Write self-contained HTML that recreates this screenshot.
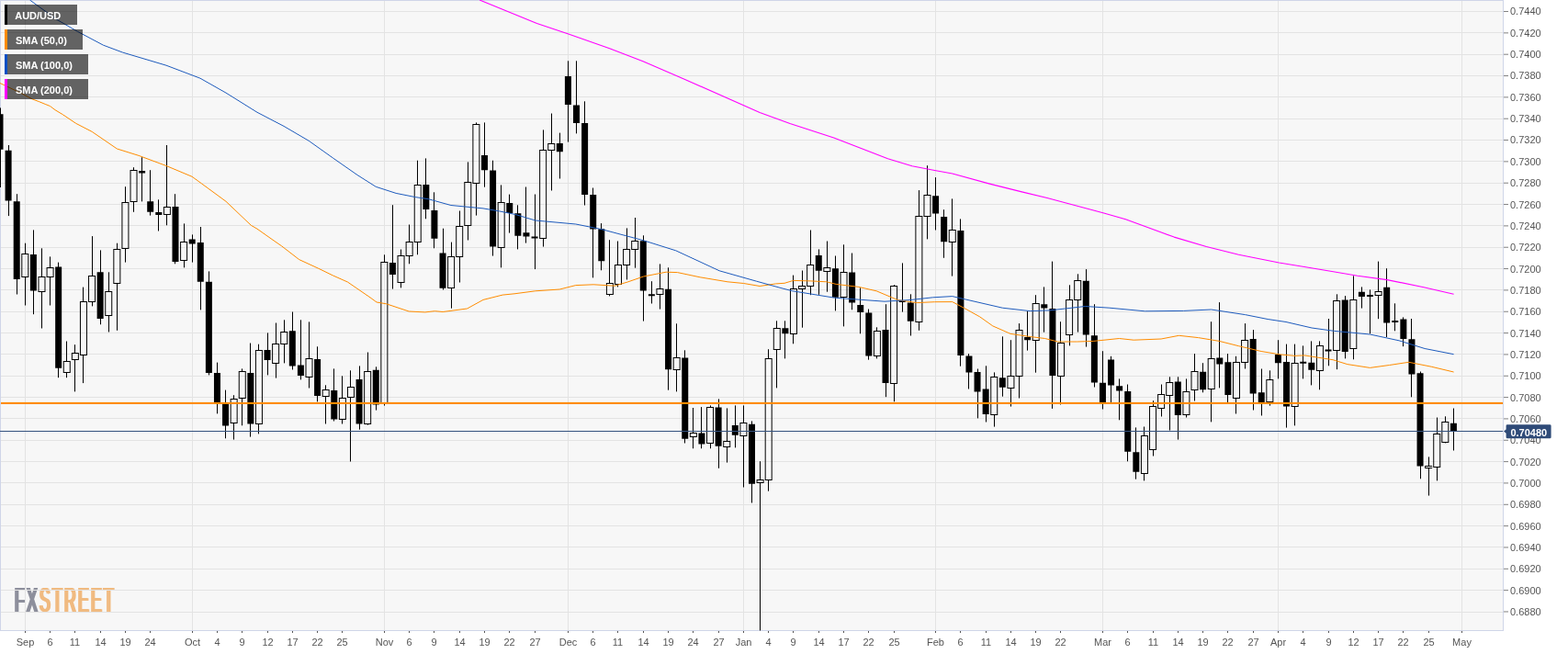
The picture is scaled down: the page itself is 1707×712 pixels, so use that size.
<!DOCTYPE html>
<html><head><meta charset="utf-8"><title>AUD/USD daily chart</title>
<style>
html,body{margin:0;padding:0;background:#fff;}
body{width:1707px;height:712px;position:relative;overflow:hidden;font-family:"Liberation Sans",sans-serif;}
.yl{position:absolute;left:1644px;font-size:11px;line-height:12px;height:12px;color:#555;white-space:nowrap;}
.xl{position:absolute;top:692px;width:40px;margin-left:-20px;text-align:center;font-size:11px;line-height:14px;color:#555;white-space:nowrap;}
.lg{position:absolute;left:5px;height:22px;box-sizing:border-box;border-left:3px solid #000;background:rgba(0,0,0,0.6);color:#fff;font-weight:bold;font-size:11px;line-height:24px;padding-left:9px;overflow:hidden;white-space:nowrap;}
.pl{position:absolute;left:1644.4px;top:464px;height:14px;line-height:14px;font-size:11px;font-weight:bold;color:#fff;white-space:nowrap;}
.bg{position:absolute;left:0;top:0;width:1637px;height:687px;background:#f7f7f7;}
.logo{position:absolute;left:0;top:0;width:160px;height:687px;overflow:hidden;}
.logo .lw{position:absolute;top:634.5px;font-size:37.06px;line-height:37.06px;font-weight:normal;white-space:nowrap;transform-origin:0 0;}
.logo .fx{color:#8d8f9c;}
.logo .st{color:#f0ba80;}
</style></head><body>
<div class="bg"></div>
<div class="logo"><div class="lw" style="left:15.57px;transform:scaleX(0.475);letter-spacing:4.74px;text-shadow:2.74px 0 0 currentColor,-2.74px 0 0 currentColor,0 0.25px 0 currentColor"><span class="fx">FX</span><span class="st">STREET</span></div></div>
<svg width="1707" height="712" viewBox="0 0 1707 712" style="position:absolute;left:0;top:0">
<g stroke="#e3e3e3" stroke-width="1" shape-rendering="crispEdges">
<line x1="0" y1="12.5" x2="1637" y2="12.5"/>
<line x1="0" y1="35.5" x2="1637" y2="35.5"/>
<line x1="0" y1="59.5" x2="1637" y2="59.5"/>
<line x1="0" y1="82.5" x2="1637" y2="82.5"/>
<line x1="0" y1="105.5" x2="1637" y2="105.5"/>
<line x1="0" y1="129.5" x2="1637" y2="129.5"/>
<line x1="0" y1="152.5" x2="1637" y2="152.5"/>
<line x1="0" y1="175.5" x2="1637" y2="175.5"/>
<line x1="0" y1="199.5" x2="1637" y2="199.5"/>
<line x1="0" y1="222.5" x2="1637" y2="222.5"/>
<line x1="0" y1="245.5" x2="1637" y2="245.5"/>
<line x1="0" y1="269.5" x2="1637" y2="269.5"/>
<line x1="0" y1="292.5" x2="1637" y2="292.5"/>
<line x1="0" y1="315.5" x2="1637" y2="315.5"/>
<line x1="0" y1="339.5" x2="1637" y2="339.5"/>
<line x1="0" y1="362.5" x2="1637" y2="362.5"/>
<line x1="0" y1="385.5" x2="1637" y2="385.5"/>
<line x1="0" y1="409.5" x2="1637" y2="409.5"/>
<line x1="0" y1="432.5" x2="1637" y2="432.5"/>
<line x1="0" y1="455.5" x2="1637" y2="455.5"/>
<line x1="0" y1="479.5" x2="1637" y2="479.5"/>
<line x1="0" y1="502.5" x2="1637" y2="502.5"/>
<line x1="0" y1="525.5" x2="1637" y2="525.5"/>
<line x1="0" y1="549.5" x2="1637" y2="549.5"/>
<line x1="0" y1="572.5" x2="1637" y2="572.5"/>
<line x1="0" y1="595.5" x2="1637" y2="595.5"/>
<line x1="0" y1="619.5" x2="1637" y2="619.5"/>
<line x1="0" y1="642.5" x2="1637" y2="642.5"/>
<line x1="0" y1="666.5" x2="1637" y2="666.5"/>
<line x1="27.5" y1="0" x2="27.5" y2="687"/>
<line x1="209.5" y1="0" x2="209.5" y2="687"/>
<line x1="418.5" y1="0" x2="418.5" y2="687"/>
<line x1="618.5" y1="0" x2="618.5" y2="687"/>
<line x1="809.5" y1="0" x2="809.5" y2="687"/>
<line x1="1018.5" y1="0" x2="1018.5" y2="687"/>
<line x1="1200.5" y1="0" x2="1200.5" y2="687"/>
<line x1="1391.5" y1="0" x2="1391.5" y2="687"/>
<line x1="1591.5" y1="0" x2="1591.5" y2="687"/>
</g>
<g fill="#cfd5e8" shape-rendering="crispEdges">
<rect x="0" y="0" width="1637" height="1"/>
<rect x="0" y="0" width="1" height="687"/>
<rect x="1636" y="0" width="1" height="687"/>
<rect x="0" y="686" width="1637" height="1"/>
</g>
<clipPath id="cp"><rect x="0" y="0" width="1636" height="687"/></clipPath>
<g clip-path="url(#cp)">
<path d="M0.5 117.4V204.0M9.5 158.0V235.1M18.5 211.2V320.5M27.5 264.7V276.1M27.5 301.4V332.5M36.5 250.4V342.2M45.5 270.3V301.4M45.5 317.0V357.5M54.5 279.4V291.4M54.5 301.2V332.5M63.5 285.6V411.2M72.5 371.5V393.5M72.5 405.4V411.2M81.5 375.2V384.7M81.5 391.4V426.4M90.5 312.6V328.5M90.5 386.6V417.1M100.5 257.1V300.5M100.5 328.5V333.4M109.5 272.4V353.3M118.5 296.3V317.0M118.5 343.1V361.5M127.5 264.7V271.5M127.5 308.3V359.8M136.5 203.2V220.1M136.5 270.3V285.6M145.5 182.2V185.2M145.5 219.4V230.8M154.5 171.2V219.4M163.5 185.2V234.6M172.5 217.3V251.5M181.5 158.0V225.8M181.5 233.0V245.3M190.5 211.2V287.3M200.5 243.4V263.6M200.5 283.5V291.4M209.5 255.4V285.6M218.5 247.0V337.4M227.5 295.4V408.4M236.5 394.6V450.4M245.5 424.6V477.3M254.5 430.2V434.6M254.5 460.1V478.6M263.5 401.4V404.6M263.5 433.4V463.3M272.5 373.5V475.6M281.5 374.7V381.2M281.5 461.9V472.4M291.5 362.4V408.4M300.5 351.5V374.3M300.5 395.4V411.6M309.5 348.3V361.5M309.5 374.3V395.4M318.5 339.5V402.5M327.5 348.3V413.4M336.5 350.4V390.5M336.5 410.2V422.5M345.5 377.3V437.4M354.5 419.3V424.6M354.5 431.6V461.5M363.5 401.4V458.5M372.5 409.3V433.4M372.5 456.8V461.5M381.5 403.3V421.8M381.5 432.5V502.5M391.5 398.4V467.7M400.5 383.5V404.0M400.5 461.9V462.7M409.5 399.3V446.6M418.5 277.3V285.6M418.5 439.0V441.6M427.5 223.2V314.6M436.5 271.5V278.6M436.5 307.3V313.4M445.5 244.5V263.3M445.5 278.7V287.3M454.5 174.7V201.0M454.5 263.3V277.3M463.5 172.4V238.3M472.5 209.3V270.3M482.5 248.7V315.5M491.5 263.6V279.6M491.5 313.7V335.7M500.5 229.5V246.4M500.5 279.6V307.5M509.5 176.4V198.9M509.5 245.7V261.5M518.5 133.4V135.1M518.5 199.6V234.6M527.5 133.4V203.7M536.5 174.7V278.6M545.5 201.4V220.5M545.5 269.1V291.4M554.5 211.6V253.6M563.5 223.3V271.4M572.5 203.5V264.6M582.5 211.5V293.1M591.5 141.4V163.3M591.5 259.3V268.6M600.5 123.5V156.0M600.5 163.2V207.5M609.5 144.6V194.5M618.5 66.3V154.6M627.5 66.3V145.4M636.5 110.3V223.5M645.5 204.5V302.4M654.5 243.1V294.3M663.5 261.2V308.5M663.5 320.3V322.4M672.5 262.5V288.1M672.5 309.2V312.4M682.5 248.4V271.4M682.5 288.1V304.5M691.5 237.0V262.4M691.5 271.4V291.7M700.5 256.3V349.6M709.5 306.2V330.5M718.5 287.4V314.7M718.5 320.6V336.6M727.5 291.3V424.7M736.5 352.3V389.5M736.5 402.2V426.4M745.5 381.3V482.5M754.5 444.0V471.1M754.5 475.5V488.3M763.5 443.1V488.3M773.5 441.4V443.5M773.5 482.5V488.3M782.5 434.4V509.8M791.5 444.4V480.4M791.5 486.4V503.6M800.5 441.4V487.4M809.5 441.4V460.4M809.5 474.3V530.5M818.5 458.4V547.5M827.5 502.2V522.6M827.5 525.6V686.5M836.5 380.2V390.8M836.5 522.6V534.7M845.5 349.3V357.3M845.5 380.8V422.4M854.5 349.3V390.4M863.5 299.6V314.5M863.5 363.6V374.3M873.5 294.5V311.5M873.5 314.5V356.7M882.5 250.5V288.1M882.5 311.5V321.2M891.5 271.4V320.8M900.5 262.5V291.8M900.5 295.3V317.7M909.5 278.5V338.4M918.5 266.3V296.0M918.5 323.3V355.4M927.5 275.5V337.3M936.5 313.3V363.3M945.5 336.5V391.7M954.5 356.3V360.3M954.5 387.4V390.4M964.5 331.2V432.2M973.5 310.1V311.5M973.5 417.7V437.3M982.5 286.4V339.6M991.5 320.3V365.5M1000.5 207.1V235.2M1000.5 350.5V359.8M1009.5 180.2V212.4M1009.5 235.6V260.4M1018.5 193.1V250.5M1027.5 228.2V280.8M1036.5 216.4V250.7M1036.5 263.6V300.6M1045.5 238.4V398.7M1054.5 385.1V423.5M1064.5 401.5V455.4M1073.5 398.3V459.5M1082.5 405.4V410.3M1082.5 451.4V464.6M1091.5 366.3V431.7M1100.5 370.2V409.4M1100.5 422.0V442.6M1109.5 352.1V359.7M1109.5 409.4V433.5M1118.5 338.7V381.6M1127.5 321.2V330.5M1127.5 370.3V405.7M1136.5 312.4V361.7M1145.5 284.6V444.9M1154.5 350.2V373.4M1154.5 409.4V440.5M1164.5 310.3V326.4M1164.5 364.1V376.4M1173.5 298.3V305.4M1173.5 326.4V361.6M1182.5 293.1V377.6M1191.5 331.2V421.5M1200.5 382.2V445.5M1209.5 387.8V438.0M1218.5 412.4V457.3M1227.5 418.5V502.3M1236.5 465.4V521.7M1245.5 464.5V474.6M1245.5 515.5V523.4M1255.5 436.2V442.9M1255.5 489.1V496.5M1264.5 418.5V429.1M1264.5 444.2V453.5M1273.5 410.3V416.4M1273.5 430.4V468.5M1282.5 410.3V478.6M1291.5 412.4V426.4M1291.5 451.4V454.5M1300.5 385.1V404.1M1300.5 424.3V436.5M1309.5 395.2V427.3M1318.5 350.2V390.4M1318.5 423.5V459.4M1327.5 329.1V422.4M1336.5 385.1V438.0M1345.5 387.8V394.5M1345.5 433.4V450.5M1355.5 352.1V370.5M1355.5 394.5V401.5M1364.5 359.1V446.5M1373.5 401.5V452.5M1382.5 403.3V413.3M1382.5 437.3V441.7M1391.5 370.2V412.4M1400.5 374.6V465.6M1409.5 374.6V395.3M1409.5 442.6V463.4M1418.5 376.4V412.4M1427.5 371.4V419.4M1436.5 371.4V376.4M1436.5 403.3V424.3M1446.5 347.0V398.3M1455.5 320.3V327.3M1455.5 381.3V402.2M1464.5 322.1V390.4M1473.5 300.4V326.4M1473.5 379.5V391.3M1482.5 312.4V335.6M1491.5 315.4V363.3M1500.5 284.6V317.3M1500.5 321.5V347.2M1509.5 292.2V367.0M1518.5 330.3V360.3M1527.5 345.4V377.2M1536.5 347.0V432.3M1546.5 404.5V521.3M1555.5 497.4V507.1M1555.5 509.0V539.6M1564.5 454.5V472.3M1564.5 508.5V523.4M1573.5 453.3V459.5M1573.5 481.5V482.4M1582.5 444.5V490.5" stroke="#000" stroke-width="1" fill="none"/>
<path d="M-3.49 124.3h7V162.7h-7zM5.60 163.8h7V218.5h-7zM14.70 219.3h7V304.0h-7zM32.89 277.0h7V316.5h-7zM60.17 290.5h7V400.7h-7zM105.64 296.3h7V346.9h-7zM151.11 186.1h7V188.6h-7zM160.21 219.3h7V230.8h-7zM169.30 231.0h7V234.0h-7zM187.49 225.0h7V284.9h-7zM205.68 260.6h7V265.4h-7zM214.77 264.1h7V306.7h-7zM223.87 306.8h7V406.0h-7zM232.96 406.0h7V438.0h-7zM242.06 440.0h7V463.6h-7zM269.34 406.0h7V461.5h-7zM287.53 381.0h7V392.0h-7zM314.81 360.3h7V398.4h-7zM323.91 397.5h7V409.0h-7zM342.09 390.9h7V431.1h-7zM360.28 425.0h7V456.6h-7zM387.57 412.9h7V461.5h-7zM405.75 402.8h7V440.4h-7zM423.94 286.1h7V299.0h-7zM460.32 201.0h7V228.1h-7zM469.42 229.0h7V259.8h-7zM478.51 275.6h7V313.7h-7zM523.98 169.1h7V185.2h-7zM533.08 185.6h7V268.5h-7zM551.26 221.0h7V232.0h-7zM560.36 232.2h7V256.7h-7zM569.45 253.3h7V257.5h-7zM578.55 257.4h7V259.4h-7zM605.83 156.0h7V165.3h-7zM614.92 82.9h7V114.1h-7zM624.02 114.5h7V134.0h-7zM633.11 134.0h7V211.9h-7zM642.21 211.9h7V249.6h-7zM651.30 249.3h7V284.3h-7zM696.77 262.2h7V316.4h-7zM705.87 320.2h7V322.2h-7zM724.06 314.7h7V402.2h-7zM742.25 389.5h7V477.8h-7zM760.43 471.4h7V483.4h-7zM778.62 443.5h7V485.7h-7zM796.81 462.9h7V473.7h-7zM815.00 461.8h7V526.8h-7zM851.38 357.3h7V363.3h-7zM887.76 278.1h7V294.8h-7zM905.94 292.2h7V323.8h-7zM924.13 296.4h7V329.4h-7zM933.23 332.1h7V340.0h-7zM942.32 340.5h7V387.4h-7zM960.51 359.0h7V417.1h-7zM978.70 327.1h7V329.1h-7zM987.79 329.4h7V349.8h-7zM1015.08 213.3h7V232.6h-7zM1024.17 236.1h7V263.3h-7zM1042.36 251.1h7V386.9h-7zM1051.45 387.4h7V405.4h-7zM1060.55 405.0h7V426.4h-7zM1069.64 423.5h7V451.0h-7zM1087.83 411.2h7V421.7h-7zM1115.11 367.0h7V370.3h-7zM1133.30 331.2h7V335.6h-7zM1142.40 336.1h7V408.9h-7zM1178.77 305.7h7V364.6h-7zM1187.87 365.2h7V416.4h-7zM1196.96 416.8h7V439.0h-7zM1206.06 391.6h7V419.4h-7zM1215.15 420.3h7V425.6h-7zM1224.25 425.9h7V491.8h-7zM1233.34 492.3h7V513.7h-7zM1278.81 415.6h7V452.0h-7zM1306.10 404.8h7V424.2h-7zM1324.28 389.5h7V396.6h-7zM1333.38 394.3h7V430.0h-7zM1360.66 368.9h7V428.6h-7zM1369.76 427.3h7V439.7h-7zM1387.94 386.0h7V395.2h-7zM1397.04 393.9h7V442.6h-7zM1415.23 393.8h7V395.8h-7zM1424.32 394.8h7V402.7h-7zM1442.51 380.5h7V382.5h-7zM1460.70 326.4h7V382.9h-7zM1478.89 317.7h7V322.9h-7zM1487.98 321.0h7V323.0h-7zM1506.17 312.7h7V351.6h-7zM1515.27 349.1h7V351.1h-7zM1524.36 347.5h7V369.0h-7zM1533.45 369.2h7V407.5h-7zM1542.55 406.2h7V507.6h-7zM1578.93 460.8h7V469.0h-7z" fill="#000"/>
<rect x="23.79" y="276.5" width="7" height="25.0" fill="none" stroke="#000" stroke-width="1"/>
<rect x="41.98" y="301.5" width="7" height="16.0" fill="none" stroke="#000" stroke-width="1"/>
<rect x="51.08" y="291.5" width="7" height="10.0" fill="none" stroke="#000" stroke-width="1"/>
<rect x="69.26" y="393.5" width="7" height="12.0" fill="none" stroke="#000" stroke-width="1"/>
<rect x="78.36" y="384.5" width="7" height="7.0" fill="none" stroke="#000" stroke-width="1"/>
<rect x="87.45" y="328.5" width="7" height="58.0" fill="none" stroke="#000" stroke-width="1"/>
<rect x="96.55" y="300.5" width="7" height="28.0" fill="none" stroke="#000" stroke-width="1"/>
<rect x="114.74" y="317.5" width="7" height="26.0" fill="none" stroke="#000" stroke-width="1"/>
<rect x="123.83" y="271.5" width="7" height="37.0" fill="none" stroke="#000" stroke-width="1"/>
<rect x="132.92" y="220.5" width="7" height="50.0" fill="none" stroke="#000" stroke-width="1"/>
<rect x="142.02" y="185.5" width="7" height="34.0" fill="none" stroke="#000" stroke-width="1"/>
<rect x="178.40" y="225.5" width="7" height="8.0" fill="none" stroke="#000" stroke-width="1"/>
<rect x="196.58" y="263.5" width="7" height="20.0" fill="none" stroke="#000" stroke-width="1"/>
<rect x="251.15" y="434.5" width="7" height="26.0" fill="none" stroke="#000" stroke-width="1"/>
<rect x="260.25" y="404.5" width="7" height="29.0" fill="none" stroke="#000" stroke-width="1"/>
<rect x="278.43" y="381.5" width="7" height="80.0" fill="none" stroke="#000" stroke-width="1"/>
<rect x="296.62" y="374.5" width="7" height="21.0" fill="none" stroke="#000" stroke-width="1"/>
<rect x="305.72" y="361.5" width="7" height="13.0" fill="none" stroke="#000" stroke-width="1"/>
<rect x="333.00" y="390.5" width="7" height="20.0" fill="none" stroke="#000" stroke-width="1"/>
<rect x="351.19" y="424.5" width="7" height="7.0" fill="none" stroke="#000" stroke-width="1"/>
<rect x="369.38" y="433.5" width="7" height="23.0" fill="none" stroke="#000" stroke-width="1"/>
<rect x="378.47" y="421.5" width="7" height="11.0" fill="none" stroke="#000" stroke-width="1"/>
<rect x="396.66" y="404.5" width="7" height="57.0" fill="none" stroke="#000" stroke-width="1"/>
<rect x="414.85" y="285.5" width="7" height="154.0" fill="none" stroke="#000" stroke-width="1"/>
<rect x="433.04" y="278.5" width="7" height="29.0" fill="none" stroke="#000" stroke-width="1"/>
<rect x="442.13" y="263.5" width="7" height="15.0" fill="none" stroke="#000" stroke-width="1"/>
<rect x="451.23" y="201.5" width="7" height="62.0" fill="none" stroke="#000" stroke-width="1"/>
<rect x="487.60" y="279.5" width="7" height="34.0" fill="none" stroke="#000" stroke-width="1"/>
<rect x="496.70" y="246.5" width="7" height="33.0" fill="none" stroke="#000" stroke-width="1"/>
<rect x="505.79" y="198.5" width="7" height="47.0" fill="none" stroke="#000" stroke-width="1"/>
<rect x="514.89" y="135.5" width="7" height="64.0" fill="none" stroke="#000" stroke-width="1"/>
<rect x="542.17" y="220.5" width="7" height="49.0" fill="none" stroke="#000" stroke-width="1"/>
<rect x="587.64" y="163.5" width="7" height="96.0" fill="none" stroke="#000" stroke-width="1"/>
<rect x="596.74" y="156.5" width="7" height="7.0" fill="none" stroke="#000" stroke-width="1"/>
<rect x="660.40" y="308.5" width="7" height="12.0" fill="none" stroke="#000" stroke-width="1"/>
<rect x="669.49" y="288.5" width="7" height="21.0" fill="none" stroke="#000" stroke-width="1"/>
<rect x="678.59" y="271.5" width="7" height="17.0" fill="none" stroke="#000" stroke-width="1"/>
<rect x="687.68" y="262.5" width="7" height="9.0" fill="none" stroke="#000" stroke-width="1"/>
<rect x="714.96" y="314.5" width="7" height="6.0" fill="none" stroke="#000" stroke-width="1"/>
<rect x="733.15" y="389.5" width="7" height="13.0" fill="none" stroke="#000" stroke-width="1"/>
<rect x="751.34" y="471.5" width="7" height="4.0" fill="none" stroke="#000" stroke-width="1"/>
<rect x="769.53" y="443.5" width="7" height="39.0" fill="none" stroke="#000" stroke-width="1"/>
<rect x="787.72" y="480.5" width="7" height="6.0" fill="none" stroke="#000" stroke-width="1"/>
<rect x="805.91" y="460.5" width="7" height="14.0" fill="none" stroke="#000" stroke-width="1"/>
<rect x="824.09" y="522.5" width="7" height="3.0" fill="none" stroke="#000" stroke-width="1"/>
<rect x="833.19" y="390.5" width="7" height="132.0" fill="none" stroke="#000" stroke-width="1"/>
<rect x="842.28" y="357.5" width="7" height="23.0" fill="none" stroke="#000" stroke-width="1"/>
<rect x="860.47" y="314.5" width="7" height="49.0" fill="none" stroke="#000" stroke-width="1"/>
<rect x="869.57" y="311.5" width="7" height="3.0" fill="none" stroke="#000" stroke-width="1"/>
<rect x="878.66" y="288.5" width="7" height="23.0" fill="none" stroke="#000" stroke-width="1"/>
<rect x="896.85" y="291.5" width="7" height="4.0" fill="none" stroke="#000" stroke-width="1"/>
<rect x="915.04" y="296.5" width="7" height="27.0" fill="none" stroke="#000" stroke-width="1"/>
<rect x="951.42" y="360.5" width="7" height="27.0" fill="none" stroke="#000" stroke-width="1"/>
<rect x="969.60" y="311.5" width="7" height="106.0" fill="none" stroke="#000" stroke-width="1"/>
<rect x="996.89" y="235.5" width="7" height="115.0" fill="none" stroke="#000" stroke-width="1"/>
<rect x="1005.98" y="212.5" width="7" height="23.0" fill="none" stroke="#000" stroke-width="1"/>
<rect x="1033.26" y="250.5" width="7" height="13.0" fill="none" stroke="#000" stroke-width="1"/>
<rect x="1078.74" y="410.5" width="7" height="41.0" fill="none" stroke="#000" stroke-width="1"/>
<rect x="1096.93" y="409.5" width="7" height="13.0" fill="none" stroke="#000" stroke-width="1"/>
<rect x="1106.02" y="359.5" width="7" height="50.0" fill="none" stroke="#000" stroke-width="1"/>
<rect x="1124.21" y="330.5" width="7" height="40.0" fill="none" stroke="#000" stroke-width="1"/>
<rect x="1151.49" y="373.5" width="7" height="36.0" fill="none" stroke="#000" stroke-width="1"/>
<rect x="1160.59" y="326.5" width="7" height="38.0" fill="none" stroke="#000" stroke-width="1"/>
<rect x="1169.68" y="305.5" width="7" height="21.0" fill="none" stroke="#000" stroke-width="1"/>
<rect x="1242.43" y="474.5" width="7" height="41.0" fill="none" stroke="#000" stroke-width="1"/>
<rect x="1251.53" y="442.5" width="7" height="47.0" fill="none" stroke="#000" stroke-width="1"/>
<rect x="1260.62" y="429.5" width="7" height="15.0" fill="none" stroke="#000" stroke-width="1"/>
<rect x="1269.72" y="416.5" width="7" height="14.0" fill="none" stroke="#000" stroke-width="1"/>
<rect x="1287.91" y="426.5" width="7" height="25.0" fill="none" stroke="#000" stroke-width="1"/>
<rect x="1297.00" y="404.5" width="7" height="20.0" fill="none" stroke="#000" stroke-width="1"/>
<rect x="1315.19" y="390.5" width="7" height="33.0" fill="none" stroke="#000" stroke-width="1"/>
<rect x="1342.47" y="394.5" width="7" height="39.0" fill="none" stroke="#000" stroke-width="1"/>
<rect x="1351.57" y="370.5" width="7" height="24.0" fill="none" stroke="#000" stroke-width="1"/>
<rect x="1378.85" y="413.5" width="7" height="24.0" fill="none" stroke="#000" stroke-width="1"/>
<rect x="1406.13" y="395.5" width="7" height="47.0" fill="none" stroke="#000" stroke-width="1"/>
<rect x="1433.42" y="376.5" width="7" height="27.0" fill="none" stroke="#000" stroke-width="1"/>
<rect x="1451.60" y="327.5" width="7" height="54.0" fill="none" stroke="#000" stroke-width="1"/>
<rect x="1469.79" y="326.5" width="7" height="53.0" fill="none" stroke="#000" stroke-width="1"/>
<rect x="1497.08" y="317.5" width="7" height="4.0" fill="none" stroke="#000" stroke-width="1"/>
<rect x="1551.64" y="507.5" width="7" height="2.0" fill="none" stroke="#000" stroke-width="1"/>
<rect x="1560.74" y="472.5" width="7" height="36.0" fill="none" stroke="#000" stroke-width="1"/>
<rect x="1569.83" y="459.5" width="7" height="22.0" fill="none" stroke="#000" stroke-width="1"/>
<polyline points="0.0,90.5 22.8,101.4 35.1,107.9 42.2,110.5 49.2,113.4 54.5,115.5 60.0,119.7 68.5,124.8 82.6,134.3 100.2,143.4 127.4,162.0 151.1,169.4 181.0,180.5 209.1,192.3 219.7,200.0 246.0,219.3 273.3,245.3 280.0,249.2 300.0,263.3 306.4,267.7 325.7,282.6 346.8,292.3 362.6,300.0 378.4,307.0 403.0,323.9 410.0,329.0 420.6,330.8 445.2,339.0 462.8,339.9 473.3,338.7 482.1,339.5 508.5,336.0 526.0,326.4 547.1,321.1 560.0,319.8 582.8,316.8 609.2,315.0 626.8,310.6 646.1,309.8 669.0,311.2 683.0,307.1 700.6,301.0 725.2,296.2 737.5,296.6 762.1,301.8 792.0,306.8 809.6,308.5 827.1,311.5 844.7,308.9 854.0,308.3 863.7,305.4 882.2,305.9 899.8,306.8 910.3,309.4 934.9,312.4 954.2,316.8 977.1,326.5 998.2,329.6 1017.5,328.7 1036.8,328.6 1050.9,336.1 1066.7,344.9 1080.8,354.9 1100.1,363.4 1121.2,366.5 1137.6,368.5 1151.6,372.0 1172.7,372.0 1190.3,371.4 1218.4,368.5 1234.2,370.2 1264.1,369.0 1283.4,365.3 1304.5,367.6 1327.4,371.4 1348.5,376.7 1373.1,382.5 1394.2,386.0 1410.0,387.4 1420.0,386.9 1451.0,391.7 1466.8,396.6 1491.4,400.4 1512.5,397.5 1533.6,394.3 1558.2,399.2 1582.6,405.0" fill="none" stroke="#ff8c00" stroke-width="1.0" stroke-linejoin="round"/>
<polyline points="32.5,0.0 61.5,21.1 84.4,34.3 112.5,49.2 133.6,57.1 181.0,71.2 217.9,85.2 246.0,101.1 280.0,122.3 309.0,137.4 336.2,153.3 362.6,172.1 389.0,190.5 409.2,203.3 431.1,210.4 452.2,214.6 466.3,216.7 490.9,223.5 526.0,226.9 543.6,229.9 561.2,233.5 582.8,240.0 626.8,244.0 654.9,249.6 700.6,261.8 735.7,272.8 783.2,294.8 823.6,306.2 850.0,313.5 862.8,316.8 908.5,324.2 963.0,328.2 991.1,326.5 1015.7,323.8 1036.8,322.6 1050.9,325.9 1091.3,335.2 1121.2,338.6 1142.8,337.9 1181.5,333.5 1207.9,335.2 1246.5,338.8 1288.7,338.4 1318.6,337.0 1355.5,342.6 1380.1,347.5 1400.0,350.5 1428.1,357.0 1452.7,360.4 1491.4,364.0 1523.0,370.8 1551.1,379.5 1582.6,385.7" fill="none" stroke="#1e5bbd" stroke-width="1.0" stroke-linejoin="round"/>
<polyline points="522.1,0.0 584.5,25.5 618.8,36.9 655.8,50.0 663.6,52.7 700.0,66.8 744.5,86.0 827.1,122.4 860.0,134.4 907.7,150.0 966.5,172.8 992.9,180.8 1017.5,185.5 1036.8,189.0 1077.3,200.1 1112.4,208.9 1140.0,215.5 1200.8,231.7 1225.4,238.8 1278.2,258.1 1313.3,268.5 1348.5,277.2 1392.4,286.0 1420.0,290.5 1450.0,295.5 1477.9,300.2 1510.0,304.6 1550.0,312.7 1582.6,320.3" fill="none" stroke="#ff00ff" stroke-width="1.1" stroke-linejoin="round"/>
<rect x="1" y="437.9" width="1637" height="2.1" fill="#ff8c00"/>
<rect x="0" y="469" width="1637" height="1" fill="#34527f"/>
</g>
<g fill="#808080">
<rect x="1637" y="12.02" width="5" height="1"/>
<rect x="1637" y="35.36" width="5" height="1"/>
<rect x="1637" y="58.69" width="5" height="1"/>
<rect x="1637" y="82.03" width="5" height="1"/>
<rect x="1637" y="105.37" width="5" height="1"/>
<rect x="1637" y="128.70" width="5" height="1"/>
<rect x="1637" y="152.04" width="5" height="1"/>
<rect x="1637" y="175.38" width="5" height="1"/>
<rect x="1637" y="198.72" width="5" height="1"/>
<rect x="1637" y="222.05" width="5" height="1"/>
<rect x="1637" y="245.39" width="5" height="1"/>
<rect x="1637" y="268.73" width="5" height="1"/>
<rect x="1637" y="292.06" width="5" height="1"/>
<rect x="1637" y="315.40" width="5" height="1"/>
<rect x="1637" y="338.74" width="5" height="1"/>
<rect x="1637" y="362.07" width="5" height="1"/>
<rect x="1637" y="385.41" width="5" height="1"/>
<rect x="1637" y="408.75" width="5" height="1"/>
<rect x="1637" y="432.09" width="5" height="1"/>
<rect x="1637" y="455.42" width="5" height="1"/>
<rect x="1637" y="478.76" width="5" height="1"/>
<rect x="1637" y="502.10" width="5" height="1"/>
<rect x="1637" y="525.43" width="5" height="1"/>
<rect x="1637" y="548.77" width="5" height="1"/>
<rect x="1637" y="572.11" width="5" height="1"/>
<rect x="1637" y="595.45" width="5" height="1"/>
<rect x="1637" y="618.78" width="5" height="1"/>
<rect x="1637" y="642.12" width="5" height="1"/>
<rect x="1637" y="665.46" width="5" height="1"/>
</g>
<g fill="#555" shape-rendering="crispEdges">
<rect x="27" y="687" width="1" height="2"/>
<rect x="54" y="687" width="1" height="2"/>
<rect x="81" y="687" width="1" height="2"/>
<rect x="109" y="687" width="1" height="2"/>
<rect x="136" y="687" width="1" height="2"/>
<rect x="163" y="687" width="1" height="2"/>
<rect x="209" y="687" width="1" height="2"/>
<rect x="236" y="687" width="1" height="2"/>
<rect x="263" y="687" width="1" height="2"/>
<rect x="291" y="687" width="1" height="2"/>
<rect x="318" y="687" width="1" height="2"/>
<rect x="345" y="687" width="1" height="2"/>
<rect x="372" y="687" width="1" height="2"/>
<rect x="418" y="687" width="1" height="2"/>
<rect x="445" y="687" width="1" height="2"/>
<rect x="472" y="687" width="1" height="2"/>
<rect x="500" y="687" width="1" height="2"/>
<rect x="527" y="687" width="1" height="2"/>
<rect x="554" y="687" width="1" height="2"/>
<rect x="582" y="687" width="1" height="2"/>
<rect x="618" y="687" width="1" height="2"/>
<rect x="645" y="687" width="1" height="2"/>
<rect x="672" y="687" width="1" height="2"/>
<rect x="700" y="687" width="1" height="2"/>
<rect x="727" y="687" width="1" height="2"/>
<rect x="754" y="687" width="1" height="2"/>
<rect x="782" y="687" width="1" height="2"/>
<rect x="809" y="687" width="1" height="2"/>
<rect x="836" y="687" width="1" height="2"/>
<rect x="863" y="687" width="1" height="2"/>
<rect x="891" y="687" width="1" height="2"/>
<rect x="918" y="687" width="1" height="2"/>
<rect x="945" y="687" width="1" height="2"/>
<rect x="973" y="687" width="1" height="2"/>
<rect x="1018" y="687" width="1" height="2"/>
<rect x="1045" y="687" width="1" height="2"/>
<rect x="1073" y="687" width="1" height="2"/>
<rect x="1100" y="687" width="1" height="2"/>
<rect x="1127" y="687" width="1" height="2"/>
<rect x="1154" y="687" width="1" height="2"/>
<rect x="1200" y="687" width="1" height="2"/>
<rect x="1227" y="687" width="1" height="2"/>
<rect x="1255" y="687" width="1" height="2"/>
<rect x="1282" y="687" width="1" height="2"/>
<rect x="1309" y="687" width="1" height="2"/>
<rect x="1336" y="687" width="1" height="2"/>
<rect x="1364" y="687" width="1" height="2"/>
<rect x="1391" y="687" width="1" height="2"/>
<rect x="1418" y="687" width="1" height="2"/>
<rect x="1446" y="687" width="1" height="2"/>
<rect x="1473" y="687" width="1" height="2"/>
<rect x="1500" y="687" width="1" height="2"/>
<rect x="1527" y="687" width="1" height="2"/>
<rect x="1555" y="687" width="1" height="2"/>
<rect x="1591" y="687" width="1" height="2"/>
</g>
</svg>
<div class="yl" style="top:6px">0.7440</div>
<div class="yl" style="top:30px">0.7420</div>
<div class="yl" style="top:53px">0.7400</div>
<div class="yl" style="top:76px">0.7380</div>
<div class="yl" style="top:100px">0.7360</div>
<div class="yl" style="top:123px">0.7340</div>
<div class="yl" style="top:146px">0.7320</div>
<div class="yl" style="top:170px">0.7300</div>
<div class="yl" style="top:193px">0.7280</div>
<div class="yl" style="top:217px">0.7260</div>
<div class="yl" style="top:240px">0.7240</div>
<div class="yl" style="top:263px">0.7220</div>
<div class="yl" style="top:287px">0.7200</div>
<div class="yl" style="top:310px">0.7180</div>
<div class="yl" style="top:333px">0.7160</div>
<div class="yl" style="top:357px">0.7140</div>
<div class="yl" style="top:380px">0.7120</div>
<div class="yl" style="top:403px">0.7100</div>
<div class="yl" style="top:427px">0.7080</div>
<div class="yl" style="top:450px">0.7060</div>
<div class="yl" style="top:473px">0.7040</div>
<div class="yl" style="top:497px">0.7020</div>
<div class="yl" style="top:520px">0.7000</div>
<div class="yl" style="top:543px">0.6980</div>
<div class="yl" style="top:567px">0.6960</div>
<div class="yl" style="top:590px">0.6940</div>
<div class="yl" style="top:613px">0.6920</div>
<div class="yl" style="top:637px">0.6900</div>
<div class="yl" style="top:660px">0.6880</div>
<div class="xl" style="left:27.5px">Sep</div>
<div class="xl" style="left:54.5px">6</div>
<div class="xl" style="left:81.5px">11</div>
<div class="xl" style="left:109.5px">14</div>
<div class="xl" style="left:136.5px">19</div>
<div class="xl" style="left:163.5px">24</div>
<div class="xl" style="left:209.5px">Oct</div>
<div class="xl" style="left:236.5px">4</div>
<div class="xl" style="left:263.5px">9</div>
<div class="xl" style="left:291.5px">12</div>
<div class="xl" style="left:318.5px">17</div>
<div class="xl" style="left:345.5px">22</div>
<div class="xl" style="left:372.5px">25</div>
<div class="xl" style="left:418.5px">Nov</div>
<div class="xl" style="left:445.5px">6</div>
<div class="xl" style="left:472.5px">9</div>
<div class="xl" style="left:500.5px">14</div>
<div class="xl" style="left:527.5px">19</div>
<div class="xl" style="left:554.5px">22</div>
<div class="xl" style="left:582.5px">27</div>
<div class="xl" style="left:618.5px">Dec</div>
<div class="xl" style="left:645.5px">6</div>
<div class="xl" style="left:672.5px">11</div>
<div class="xl" style="left:700.5px">14</div>
<div class="xl" style="left:727.5px">19</div>
<div class="xl" style="left:754.5px">24</div>
<div class="xl" style="left:782.5px">27</div>
<div class="xl" style="left:809.5px">Jan</div>
<div class="xl" style="left:836.5px">4</div>
<div class="xl" style="left:863.5px">9</div>
<div class="xl" style="left:891.5px">14</div>
<div class="xl" style="left:918.5px">17</div>
<div class="xl" style="left:945.5px">22</div>
<div class="xl" style="left:973.5px">25</div>
<div class="xl" style="left:1018.5px">Feb</div>
<div class="xl" style="left:1045.5px">6</div>
<div class="xl" style="left:1073.5px">11</div>
<div class="xl" style="left:1100.5px">14</div>
<div class="xl" style="left:1127.5px">19</div>
<div class="xl" style="left:1154.5px">22</div>
<div class="xl" style="left:1200.5px">Mar</div>
<div class="xl" style="left:1227.5px">6</div>
<div class="xl" style="left:1255.5px">11</div>
<div class="xl" style="left:1282.5px">14</div>
<div class="xl" style="left:1309.5px">19</div>
<div class="xl" style="left:1336.5px">22</div>
<div class="xl" style="left:1364.5px">27</div>
<div class="xl" style="left:1391.5px">Apr</div>
<div class="xl" style="left:1418.5px">4</div>
<div class="xl" style="left:1446.5px">9</div>
<div class="xl" style="left:1473.5px">12</div>
<div class="xl" style="left:1500.5px">17</div>
<div class="xl" style="left:1527.5px">22</div>
<div class="xl" style="left:1555.5px">25</div>
<div class="xl" style="left:1591.5px">May</div>
<div class="lg" style="top:5px;width:79px;border-left-color:#000;padding-left:8.2px">AUD/USD</div>
<div class="lg" style="top:32px;width:85px;border-left-color:#ff8c00">SMA (50,0)</div>
<div class="lg" style="top:59px;width:91px;border-left-color:#0a4fc4">SMA (100,0)</div>
<div class="lg" style="top:86px;width:91px;border-left-color:#ff00ff">SMA (200,0)</div>
<svg width="80" height="30" viewBox="1630 455 80 30" style="position:absolute;left:1630px;top:455px"><path d="M1637 469.6 L1639.6 467.4 V463.6 a1.4 1.4 0 0 1 1.4 -1.4 H1687.2 a1.4 1.4 0 0 1 1.4 1.4 V475.9 a1.4 1.4 0 0 1 -1.4 1.4 H1641 a1.4 1.4 0 0 1 -1.4 -1.4 V471.8 Z" fill="#2f4b78"/></svg>
<div class="pl">0.70480</div>
</body></html>
